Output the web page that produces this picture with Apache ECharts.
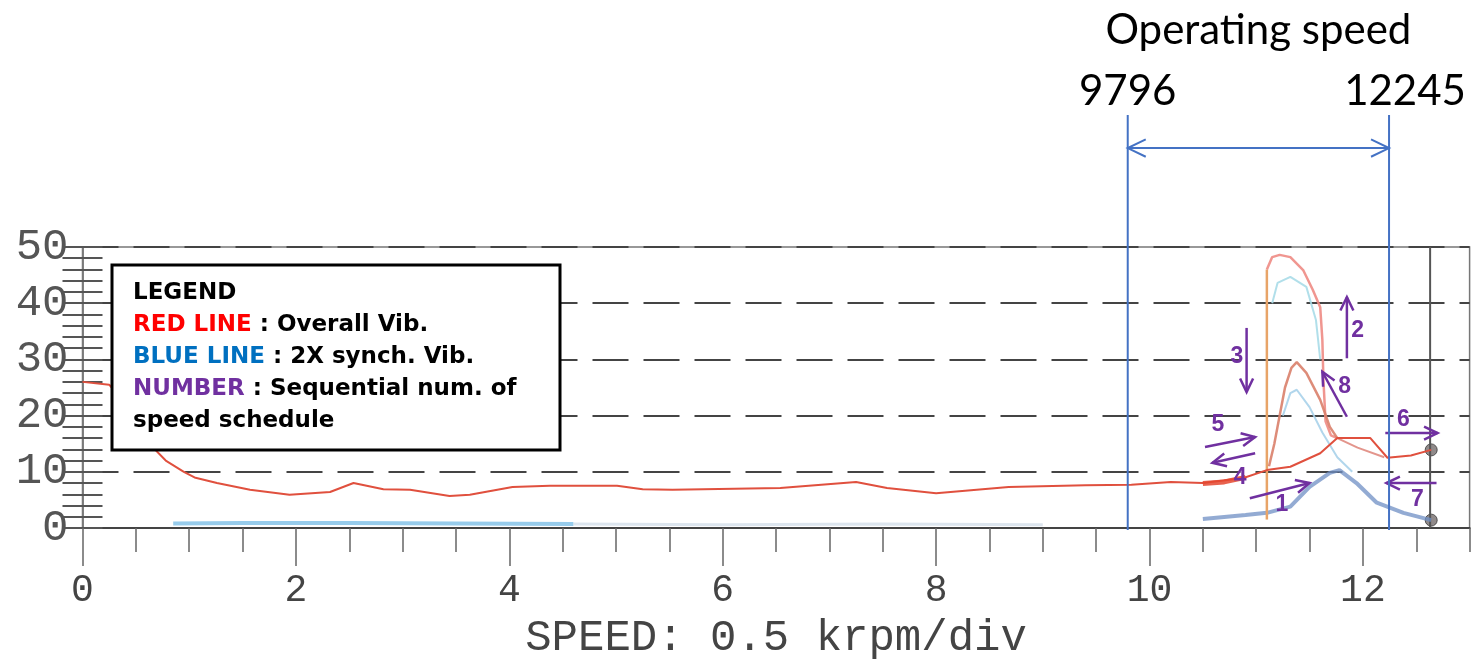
<!DOCTYPE html>
<html>
<head>
<meta charset="utf-8">
<script src="https://cdn.jsdelivr.net/npm/echarts@6/dist/echarts.min.js"></script>
<style>
  html, body { margin: 0; background: #fff; }
  #chart { width: 1474px; height: 667px; }
</style>
</head>
<body>
<div id="chart"></div>
<script>
// speed in krpm, vibration value
var overallVib = [[0, 26], [0.25, 25.5], [0.45, 21], [0.6, 15.5], [0.78, 12], [0.95, 10], [1.05, 9],
  [1.26, 8], [1.57, 6.8], [1.94, 5.9], [2.32, 6.4], [2.54, 8.0], [2.82, 6.9], [3.07, 6.8], [3.44, 5.7],
  [3.63, 5.9], [4.03, 7.3], [4.38, 7.5], [5.01, 7.5], [5.25, 6.9], [5.53, 6.8], [6.54, 7.1], [7.25, 8.2],
  [7.54, 7.1], [8.0, 6.2], [8.68, 7.3], [9.4, 7.6], [9.83, 7.7], [10.2, 8.2], [10.5, 8.0], [10.88, 8.9],
  [11.1, 10.3], [11.32, 10.9], [11.6, 13.3], [11.76, 16.0], [12.07, 16.0], [12.23, 12.5], [12.45, 12.9],
  [12.64, 13.9]]
var overallHold = [[10.5, 7.9], [10.7, 8.2], [10.9, 9.0]]
var overallJump = [[11.1, 1.5], [11.1, 46]]
var overallBigLoop = [[11.1, 46], [11.15, 48.2], [11.22, 48.6], [11.32, 48.2], [11.44, 45.9], [11.53, 42.4],
  [11.6, 39.3], [11.62, 33.5], [11.63, 26.3], [11.65, 19], [11.7, 16.5], [11.76, 16]]
var overallSmallLoop = [[11.12, 11], [11.17, 15], [11.22, 20], [11.27, 25], [11.33, 28.5], [11.38, 29.5],
  [11.47, 27.6], [11.6, 22.8], [11.69, 18], [11.76, 16]]
var overallDown = [[11.76, 16], [11.95, 14.3], [12.2, 12.6]]

var sync2X = [[10.5, 1.6], [10.9, 2.3], [11.1, 2.7], [11.32, 3.8], [11.5, 7.3], [11.69, 9.8], [11.78, 10.3],
  [11.94, 8], [12.13, 4.5], [12.38, 2.7], [12.64, 1.4]]
var syncLow = [[0.85, 0.8], [1.5, 0.9], [2.5, 0.9], [3.5, 0.8], [4.6, 0.7]]
var syncFaint = [[4.6, 0.7], [6, 0.6], [7.5, 0.7], [9, 0.6]]
var syncBigLoop = [[11.15, 40], [11.2, 43.6], [11.32, 44.7], [11.47, 42.9], [11.56, 37], [11.6, 30]]
var syncSmallLoop = [[11.25, 20], [11.32, 24], [11.38, 24.6], [11.5, 21.5], [11.62, 17], [11.76, 12.6], [11.9, 10]]

var endMarkers = [[12.64, 13.9], [12.64, 1.4]]
var innerFrameX = 12.63

// speed schedule arrows: x1, y1, x2, y2 (head at x2, y2)
var seqArrows = [[10.94, 5.3, 11.5, 8.0], [11.85, 30.2, 11.85, 41.1], [10.91, 35.6, 10.91, 24.2],
  [10.52, 14.4, 10.99, 16.2], [10.99, 13.3, 10.59, 11.6], [12.21, 16.9, 12.70, 16.9],
  [12.69, 8.0, 12.22, 8.0], [11.85, 19.8, 11.62, 27.8]]
var seqLabels = [[11.24, 4.1, '1'], [11.95, 35.2, '2'], [10.82, 30.4, '3'], [10.85, 8.9, '4'],
  [10.64, 18.3, '5'], [12.38, 19.2, '6'], [12.51, 5.0, '7'], [11.83, 25.1, '8']]

// operating speed range (krpm) and where its marks sit above the plot
var opSpeed = [[9.796, 12.245]]
var opLineTop = 73.5
var opArrowY = 67.6
var opLabelY = 77.6
var opTitleY = 88.6

var xLabelValues = [0, 2, 4, 6, 8, 10, 12]

var purple = '#7030a0'
var opBlue = '#4472c4'

function arrowHead (tip, from, len) {
  var ang = Math.atan2(tip[1] - from[1], tip[0] - from[0])
  var a = Math.PI / 7
  return [
    [tip[0] - len * Math.cos(ang - a), tip[1] - len * Math.sin(ang - a)],
    tip,
    [tip[0] - len * Math.cos(ang + a), tip[1] - len * Math.sin(ang + a)]
  ]
}

function renderArrow (params, api) {
  var a = api.coord([api.value(0), api.value(1)])
  var b = api.coord([api.value(2), api.value(3)])
  var st = {stroke: purple, lineWidth: 2.5, fill: null}
  return {
    type: 'group',
    children: [
      {type: 'line', shape: {x1: a[0], y1: a[1], x2: b[0], y2: b[1]}, style: st},
      {type: 'polyline', shape: {points: arrowHead(b, a, 15)}, style: st}
    ]
  }
}

function renderSeqLabel (params, api) {
  var p = api.coord([api.value(0), api.value(1)])
  return {
    type: 'text',
    style: {
      x: p[0], y: p[1], text: seqLabels[params.dataIndex][2],
      fill: purple, font: 'bold 23px "Liberation Sans"', align: 'center', verticalAlign: 'middle'
    }
  }
}

function renderOpSpeed (params, api) {
  var lo = api.value(0)
  var hi = api.value(1)
  var bl = api.coord([lo, 0])
  var tl = api.coord([lo, opLineTop])
  var br = api.coord([hi, 0])
  var tr = api.coord([hi, opLineTop])
  var al = api.coord([lo, opArrowY])
  var ar = api.coord([hi, opArrowY])
  var ll = api.coord([lo, opLabelY])
  var lr = api.coord([hi, opLabelY])
  var tt = api.coord([(lo + hi) / 2, opTitleY])
  var st = {stroke: opBlue, lineWidth: 2, fill: null}
  var font = '42px Lato'
  return {
    type: 'group',
    children: [
      {type: 'line', shape: {x1: bl[0], y1: bl[1] + 2, x2: tl[0], y2: tl[1]}, style: st},
      {type: 'line', shape: {x1: br[0], y1: br[1] + 2, x2: tr[0], y2: tr[1]}, style: st},
      {type: 'line', shape: {x1: al[0], y1: al[1], x2: ar[0], y2: ar[1]}, style: st},
      {type: 'polyline', shape: {points: arrowHead(al, ar, 20)}, style: st},
      {type: 'polyline', shape: {points: arrowHead(ar, al, 20)}, style: st},
      {type: 'text', style: {x: ll[0], y: ll[1], text: String(Math.round(lo * 1000)), font: font, fill: '#000', align: 'center', verticalAlign: 'middle'}},
      {type: 'text', style: {x: lr[0] + 16, y: lr[1], text: String(Math.round(hi * 1000)), font: font, fill: '#000', align: 'center', verticalAlign: 'middle'}},
      {type: 'text', style: {x: tt[0], y: tt[1], text: 'Operating speed', font: font, fill: '#000', align: 'center', verticalAlign: 'middle'}}
    ]
  }
}

function lineSeries (data, color, width, opacity) {
  return {
    type: 'line',
    data: data,
    showSymbol: false,
    silent: true,
    clip: false,
    lineStyle: {color: color, width: width, opacity: opacity === undefined ? 1 : opacity}
  }
}

var legendFont = 'bold 23px "DejaVu Sans"'

var chart = echarts.init(document.getElementById('chart'))
chart.setOption({
  backgroundColor: '#fff',
  animation: false,
  grid: {
    left: 82.5,
    right: 4.4,
    top: 247,
    bottom: 139,
    show: true,
    borderColor: '#777',
    borderWidth: 1.5
  },
  xAxis: [
    {
      type: 'value',
      min: 0,
      max: 13,
      interval: 0.5,
      name: 'SPEED: 0.5 krpm/div',
      nameLocation: 'middle',
      nameGap: 88,
      nameTextStyle: {fontFamily: 'Liberation Mono', fontSize: 44, color: '#444'},
      axisLine: {show: true, onZero: false, lineStyle: {color: '#444', width: 2}},
      axisTick: {show: true, length: 24, lineStyle: {color: '#666', width: 1.5}},
      axisLabel: {
        customValues: xLabelValues,
        margin: 44,
        fontFamily: 'Liberation Mono',
        fontSize: 38,
        color: '#444'
      },
      splitLine: {show: false}
    },
    {
      type: 'value',
      min: 0,
      max: 13,
      position: 'bottom',
      axisLine: {show: false},
      axisTick: {show: true, customValues: xLabelValues, length: 38, lineStyle: {color: '#666', width: 1.5}},
      axisLabel: {show: false},
      splitLine: {show: false}
    }
  ],
  yAxis: [
    {
      type: 'value',
      min: 0,
      max: 50,
      interval: 10,
      axisLine: {show: true, lineStyle: {color: '#888', width: 1.5}},
      axisTick: {show: true, inside: true, length: 20, lineStyle: {color: '#555', width: 2}},
      minorTick: {show: true, splitNumber: 5, length: 20, lineStyle: {color: '#555', width: 2}},
      axisLabel: {
        margin: 14,
        padding: [0, 0, 14, 0],
        fontFamily: 'Liberation Mono',
        fontSize: 44,
        color: '#555'
      },
      splitLine: {show: true, lineStyle: {color: '#444', width: 2, type: [36, 15]}}
    },
    {
      type: 'value',
      min: 0,
      max: 50,
      interval: 10,
      position: 'right',
      axisLine: {show: true, lineStyle: {color: '#777', width: 1.5}},
      axisTick: {show: true, inside: true, length: 20, lineStyle: {color: '#555', width: 2}},
      minorTick: {show: true, splitNumber: 5, length: 20, lineStyle: {color: '#555', width: 2}},
      axisLabel: {show: false},
      splitLine: {show: false}
    }
  ],
  series: [
    // inner right frame line
    lineSeries([[innerFrameX, 0], [innerFrameX, 50]], '#555', 2),
    lineSeries(syncFaint, '#d3dfea', 3, 0.8),
    lineSeries(syncLow, '#8cc6ea', 4, 0.9),
    lineSeries(sync2X, '#6f8fc4', 4, 0.75),
    lineSeries(syncBigLoop, '#a8dbe8', 2, 0.9),
    lineSeries(syncSmallLoop, '#a9d2ea', 2, 0.9),
    lineSeries(overallJump, '#e8a468', 2.5),
    lineSeries(overallBigLoop, '#ee8b84', 2.5, 0.9),
    lineSeries(overallSmallLoop, '#d9806a', 2.5, 0.9),
    lineSeries(overallDown, '#e08a80', 2, 0.9),
    lineSeries(overallVib, '#e0503e', 2),
    lineSeries(overallHold, '#e4472f', 5, 0.85),
    {
      type: 'scatter',
      data: endMarkers,
      symbolSize: 12,
      silent: true,
      itemStyle: {color: 'rgba(70,60,60,0.75)', borderColor: '#333', borderWidth: 1}
    },
    {
      type: 'custom',
      renderItem: renderArrow,
      data: seqArrows,
      silent: true,
      z: 5
    },
    {
      type: 'custom',
      renderItem: renderSeqLabel,
      data: seqLabels.map(function (d) { return [d[0], d[1]] }),
      silent: true,
      z: 5
    },
    {
      type: 'custom',
      renderItem: renderOpSpeed,
      data: opSpeed,
      silent: true,
      z: 6
    }
  ],
  graphic: [
    {
      type: 'rect',
      z: 100,
      shape: {x: 112, y: 265, width: 448, height: 185},
      style: {fill: '#fff', stroke: '#000', lineWidth: 3}
    },
    {
      type: 'text',
      z: 101,
      x: 133,
      y: 277,
      style: {
        text: 'LEGEND\n{r|RED LINE} : Overall Vib.\n{b|BLUE LINE} : 2X synch. Vib.\n{p|NUMBER} : Sequential num. of\nspeed schedule',
        font: legendFont,
        fill: '#000',
        lineHeight: 32,
        verticalAlign: 'top',
        rich: {
          r: {fill: '#ff0000', font: legendFont, lineHeight: 32},
          b: {fill: '#0070c0', font: legendFont, lineHeight: 32},
          p: {fill: purple, font: legendFont, lineHeight: 32}
        }
      }
    }
  ]
})
</script>
</body>
</html>
